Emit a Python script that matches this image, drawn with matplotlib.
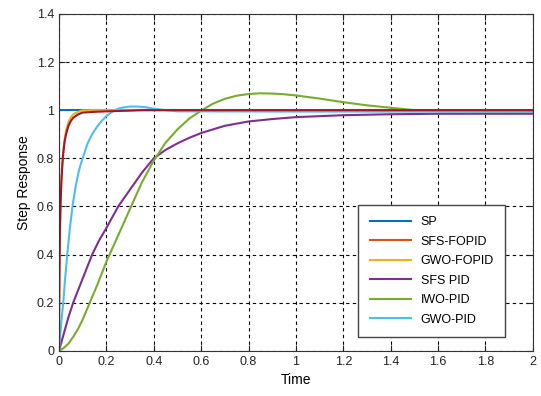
import matplotlib.pyplot as plt
from matplotlib.lines import Line2D
from matplotlib.ticker import FormatStrFormatter

plt.rcParams['font.family'] = ['Liberation Sans', 'DejaVu Sans']

# time samples and responses
t_sp = [0, 2]
sp = [1, 1]

t_sfs_fo = [0, 0.001, 0.002, 0.004, 0.007, 0.01, 0.014, 0.018, 0.024, 0.03, 0.04, 0.05, 0.06, 0.08, 0.1, 0.15, 0.2, 0.3, 0.35, 0.5, 1.0, 2.0]
sfs_fo = [0, 0.2, 0.32, 0.5, 0.62, 0.7, 0.77, 0.82, 0.87, 0.9, 0.935, 0.955, 0.968, 0.982, 0.99, 0.993, 0.995, 0.998, 1.0, 1.0, 1.0, 1.0]

t_gwo_fo = [0, 0.001, 0.002, 0.004, 0.007, 0.01, 0.014, 0.018, 0.024, 0.03, 0.04, 0.05, 0.06, 0.08, 0.1, 0.15, 0.2, 0.5, 1.0, 2.0]
gwo_fo = [0, 0.2, 0.32, 0.5, 0.62, 0.7, 0.77, 0.83, 0.88, 0.915, 0.95, 0.97, 0.982, 0.993, 0.999, 1.0, 1.0, 1.0, 1.0, 1.0]

t_sfs_pid = [0, 0.01, 0.02, 0.03, 0.04, 0.06, 0.08, 0.1, 0.12, 0.14, 0.17, 0.2, 0.25, 0.3, 0.35, 0.4, 0.45, 0.5, 0.55, 0.6, 0.7, 0.8, 0.9, 1.0, 1.1, 1.2, 1.4, 1.6, 2.0]
sfs_pid = [0, 0.035, 0.07, 0.105, 0.14, 0.2, 0.25, 0.3, 0.35, 0.4, 0.46, 0.51, 0.6, 0.67, 0.74, 0.8, 0.835, 0.862, 0.885, 0.905, 0.935, 0.953, 0.963, 0.971, 0.975, 0.979, 0.983, 0.985, 0.985]

t_iwo_pid = [0, 0.02, 0.04, 0.06, 0.08, 0.1, 0.13, 0.16, 0.2, 0.25, 0.3, 0.35, 0.4, 0.45, 0.5, 0.55, 0.6, 0.65, 0.7, 0.75, 0.8, 0.85, 0.9, 0.95, 1.0, 1.1, 1.2, 1.3, 1.4, 1.45, 1.5, 1.6, 2.0]
iwo_pid = [0, 0.012, 0.03, 0.058, 0.09, 0.13, 0.2, 0.27, 0.37, 0.48, 0.59, 0.7, 0.79, 0.865, 0.92, 0.965, 0.998, 1.027, 1.047, 1.06, 1.067, 1.07, 1.069, 1.066, 1.061, 1.048, 1.033, 1.02, 1.01, 1.005, 1.0, 0.996, 0.994]

t_gwo_pid = [0, 0.005, 0.01, 0.018, 0.025, 0.035, 0.045, 0.057, 0.07, 0.08, 0.09, 0.1, 0.11, 0.12, 0.14, 0.16, 0.18, 0.2, 0.22, 0.235, 0.25, 0.27, 0.3, 0.33, 0.36, 0.4, 0.45, 0.5, 1.0, 2.0]
gwo_pid = [0, 0.06, 0.12, 0.2, 0.29, 0.4, 0.5, 0.6, 0.68, 0.73, 0.77, 0.8, 0.83, 0.86, 0.9, 0.93, 0.955, 0.975, 0.99, 1.0, 1.006, 1.011, 1.015, 1.015, 1.013, 1.006, 1.0, 0.995, 0.994, 0.994]

names = ['SP', 'SFS-FOPID', 'GWO-FOPID', 'SFS PID', 'IWO-PID', 'GWO-PID']
colors = ['#0072BD', '#D95319', '#EDB120', '#7E2F8E', '#77AC30', '#4DBEEE']

fig = plt.figure(figsize=(5.41, 3.96), dpi=100)
ax = fig.add_axes([0.109, 0.114, 0.876, 0.851])

ax.plot(t_sp, sp, color=colors[0], lw=1.5)
ax.plot(t_sfs_pid, sfs_pid, color=colors[3], lw=1.5)
ax.plot(t_iwo_pid, iwo_pid, color=colors[4], lw=1.5)
ax.plot(t_gwo_pid, gwo_pid, color=colors[5], lw=1.5)
ax.plot(t_gwo_fo, gwo_fo, color=colors[2], lw=1.5)
ax.plot(t_sfs_fo, sfs_fo, color='#A2142F', lw=1.5)

ax.set_xlim(0, 2)
ax.set_ylim(0, 1.4)
ax.set_xticks([i * 0.2 for i in range(11)])
ax.set_yticks([i * 0.2 for i in range(8)])
ax.xaxis.set_major_formatter(FormatStrFormatter('%g'))
ax.yaxis.set_major_formatter(FormatStrFormatter('%g'))
ax.tick_params(direction='in', top=True, right=True, labelsize=9, length=4, colors='#222222')
ax.grid(True, color='black', linestyle=(0, (3, 3)), lw=0.8)
for s in ax.spines.values():
    s.set_color('#333333')

ax.set_xlabel('Time', fontsize=10, labelpad=4)
ax.set_ylabel('Step Response', fontsize=10)

handles = [Line2D([], [], color=c, lw=1.5) for c in colors]
leg = ax.legend(handles, names, loc='lower right', bbox_to_anchor=(0.955, 0.023),
                fontsize=9, handlelength=3.3, fancybox=False, framealpha=1,
                edgecolor='#444444', borderpad=0.9, labelspacing=0.6)
leg.get_frame().set_linewidth(1.0)

fig.savefig('out.png', dpi=100)
